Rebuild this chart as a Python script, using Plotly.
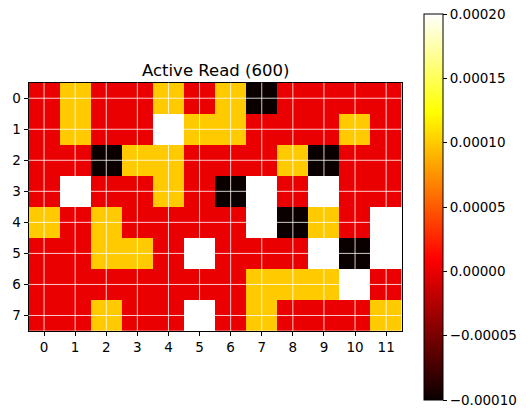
import plotly.graph_objects as go

title = "Active Read (600)"
cols = list(range(12))
rows = list(range(8))

R, Y, B, W = 0.0, 1e-4, -1e-4, 2e-4
row0 = [R, Y, R, R, Y, R, Y, B, R, R, R, R]
row1 = [R, Y, R, R, W, Y, Y, R, R, R, Y, R]
row2 = [R, R, B, Y, Y, R, R, R, Y, B, R, R]
row3 = [R, W, R, R, Y, R, B, W, R, W, R, R]
row4 = [Y, R, Y, R, R, R, R, W, B, Y, R, W]
row5 = [R, R, Y, Y, R, W, R, R, R, W, B, W]
row6 = [R, R, R, R, R, R, R, Y, Y, Y, W, R]
row7 = [R, R, Y, R, R, W, R, Y, R, R, R, Y]
z = [row0, row1, row2, row3, row4, row5, row6, row7]

vmin, vmax = -0.0001, 0.0002
cbar_ticks = [-0.0001, -0.00005, 0.0, 0.00005, 0.0001, 0.00015, 0.0002]
cbar_text = ["\u22120.00010", "\u22120.00005", "0.00000", "0.00005",
             "0.00010", "0.00015", "0.00020"]

hot = [
    [0.0, "rgb(10,0,0)"],
    [0.365079, "rgb(255,0,0)"],
    [0.746032, "rgb(255,255,0)"],
    [1.0, "rgb(255,255,255)"],
]

W_PX, H_PX = 531, 418
x0, x1 = 28.5, 401.7
y0, y1 = 82.7, 331.0
cb_left, cb_top, cb_bot = 424, 14, 400

fig = go.Figure(
    go.Heatmap(
        z=z, x=cols, y=rows, colorscale=hot,
        zmin=vmin - 1e-9, zmax=vmax + 1e-9,
        xgap=0, ygap=0, hoverinfo="skip",
        colorbar=dict(
            x=cb_left / W_PX, xanchor="left", xpad=0, ypad=0,
            y=1 - cb_top / H_PX, yanchor="top",
            len=(cb_bot - cb_top) / H_PX, lenmode="fraction",
            thickness=19, thicknessmode="pixels",
            outlinecolor="black", outlinewidth=1,
            tickmode="array", tickvals=cbar_ticks, ticktext=cbar_text,
            ticks="outside", ticklen=4, tickcolor="black",
            ticklabeloverflow="allow",
            tickfont=dict(family="DejaVu Sans", size=13.5, color="black"),
        ),
    )
)

shapes = []
for c in cols:
    shapes.append(dict(type="line", xref="x", yref="paper", x0=c, x1=c,
                       y0=1 - y1 / H_PX, y1=1 - y0 / H_PX,
                       line=dict(color="white", width=0.8), layer="above"))
for r in rows:
    shapes.append(dict(type="line", xref="paper", yref="y", y0=r, y1=r,
                       x0=x0 / W_PX, x1=x1 / W_PX,
                       line=dict(color="white", width=0.8), layer="above"))

axis_common = dict(
    showgrid=False, zeroline=False, showline=True, linecolor="black",
    linewidth=1, mirror=True, ticks="outside", ticklen=4, tickcolor="black",
    tickfont=dict(family="DejaVu Sans", size=13.5, color="black"),
)

fig.update_layout(
    width=W_PX, height=H_PX,
    margin=dict(l=0, r=0, t=0, b=0),
    paper_bgcolor="white", plot_bgcolor="white",
    shapes=shapes,
    xaxis=dict(domain=[x0 / W_PX, x1 / W_PX], tickvals=cols,
               range=[-0.5, 11.5], **axis_common),
    yaxis=dict(domain=[1 - y1 / H_PX, 1 - y0 / H_PX], tickvals=rows,
               range=[7.5, -0.5], **axis_common),
    annotations=[dict(text=title, xref="paper", yref="paper",
                      x=(x0 + x1) / 2 / W_PX, y=1 - 70 / H_PX,
                      xanchor="center", yanchor="middle", showarrow=False,
                      font=dict(family="DejaVu Sans", size=16.5, color="black"))],
)

fig.write_html(
    "out.html",
    config={"displayModeBar": False},
    post_script="document.body.style.margin='0px';document.body.style.overflow='hidden';",
)
